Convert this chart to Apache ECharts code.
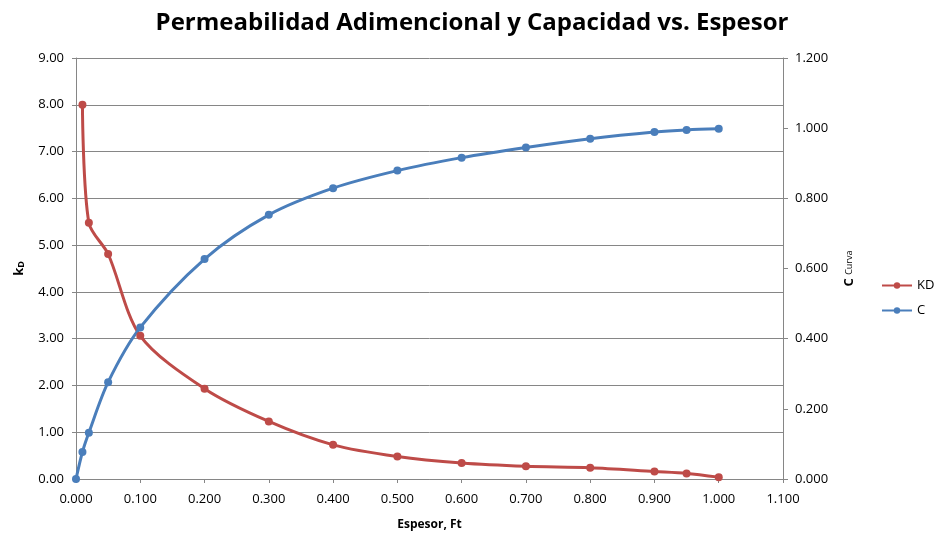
<!DOCTYPE html>
<html><head><meta charset="utf-8">
<script src="https://cdn.jsdelivr.net/npm/echarts@6/dist/echarts.min.js"></script>
<style>html,body{margin:0;padding:0;background:#fff}#c{width:944px;height:536px}</style>
</head><body><div id="c"></div>
<script>
const kdX = [0.01, 0.02, 0.05, 0.1, 0.2, 0.3, 0.4, 0.5, 0.6, 0.7, 0.8, 0.9, 0.95, 1.0];
const kdY = [8.0, 5.48, 4.81, 3.06, 1.93, 1.23, 0.73, 0.48, 0.34, 0.27, 0.24, 0.16, 0.12, 0.04];
const cX = [0, 0.01, 0.02, 0.05, 0.1, 0.2, 0.3, 0.4, 0.5, 0.6, 0.7, 0.8, 0.9, 0.95, 1.0];
const cY = [0, 0.077, 0.132, 0.276, 0.432, 0.627, 0.753, 0.829, 0.879, 0.916, 0.945, 0.970, 0.989, 0.995, 0.998];
const titleText = 'Permeabilidad Adimencional y Capacidad vs. Espesor';
const xName = 'Espesor, Ft';

const font = '"Open Sans", "Noto Sans", sans-serif';
const chart = echarts.init(document.getElementById('c'));
chart.setOption({
  animation: false,
  textStyle: {fontFamily: font},
  title: {text: titleText, left: 'center', top: 6,
    textStyle: {fontFamily: font, fontSize: 24, fontWeight: 'bold', color: '#000'}},
  grid: {left: 76, right: 161, top: 58, bottom: 56},
  legend: {orient: 'vertical', left: 876, top: 274, itemGap: 12, itemWidth: 30, itemHeight: 8,
    textStyle: {fontSize: 13, color: '#000'},
    data: ['KD', 'C']},
  xAxis: {type: 'value', min: 0, max: 1.1, interval: 0.1,
    name: xName, nameLocation: 'middle', nameGap: 40,
    nameTextStyle: {fontSize: 12, fontWeight: 'bold', color: '#000'},
    axisLine: {show: true, lineStyle: {color: '#868686'}},
    axisTick: {show: true, inside: false, length: 4, lineStyle: {color: '#868686'}},
    splitLine: {show: false},
    axisLabel: {color: '#000', fontSize: 13, margin: 14, formatter: v => v.toFixed(3)}},
  yAxis: [
    {type: 'value', min: 0, max: 9, interval: 1,
     name: '{a|k}{b|D}', nameLocation: 'middle', nameGap: 50, nameRotate: 90,
     nameTextStyle: {rich: {a: {fontSize: 13, fontWeight: 'bold', color: '#000'}, b: {fontSize: 9, fontWeight: 'bold', color: '#000', verticalAlign: 'bottom'}}},
     axisLine: {show: true, lineStyle: {color: '#868686'}},
     axisTick: {show: true, length: 4, lineStyle: {color: '#868686'}},
     splitLine: {show: true, lineStyle: {color: '#868686', width: 1}},
     axisLabel: {color: '#000', fontSize: 13, margin: 12, formatter: v => v.toFixed(2)}},
    {type: 'value', min: 0, max: 1.2, interval: 0.2, position: 'right',
     name: '{a|C }{b|Curva}', nameLocation: 'middle', nameGap: 60, nameRotate: 90,
     nameTextStyle: {rich: {a: {fontSize: 13, fontWeight: 'bold', color: '#000'}, b: {fontSize: 9, color: '#000'}}},
     axisLine: {show: true, lineStyle: {color: '#868686'}},
     axisTick: {show: true, length: 5, lineStyle: {color: '#868686'}},
     splitLine: {show: false},
     axisLabel: {color: '#000', fontSize: 13, margin: 12, formatter: v => v.toFixed(3)}}
  ],
  series: [
    {name: 'KD', type: 'line', yAxisIndex: 0, smooth: 0.3,
     data: kdX.map((x, i) => [x, kdY[i]]),
     symbol: 'circle', symbolSize: 8,
     lineStyle: {color: '#BE4B48', width: 3}, itemStyle: {color: '#BE4B48'}},
    {name: 'C', type: 'line', yAxisIndex: 1, smooth: 0.3,
     data: cX.map((x, i) => [x, cY[i]]),
     symbol: 'circle', symbolSize: 8,
     lineStyle: {color: '#4A7EBB', width: 3}, itemStyle: {color: '#4A7EBB'}}
  ]
});
</script></body></html>
